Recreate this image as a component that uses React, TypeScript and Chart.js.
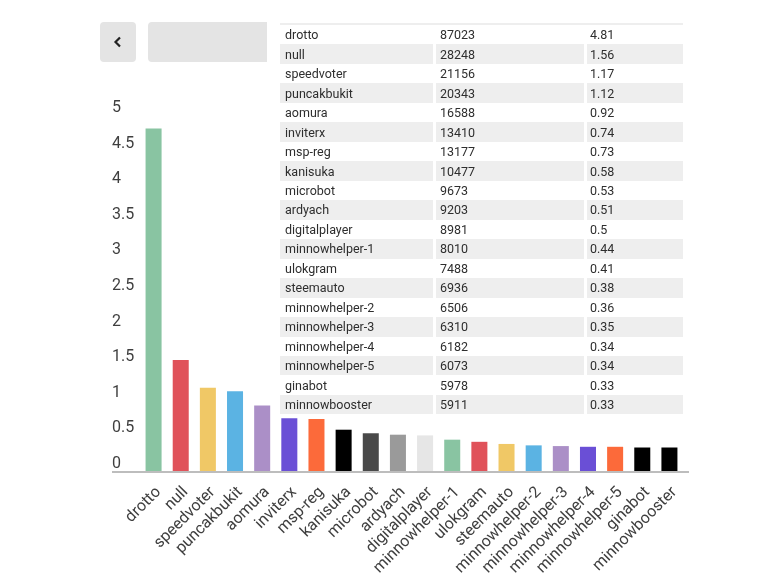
import React, { useEffect, useRef } from "react";
import { Chart, registerables } from "chart.js";

Chart.register(...registerables);

const names = [
  "drotto", "null", "speedvoter", "puncakbukit", "aomura", "inviterx", "msp-reg",
  "kanisuka", "microbot", "ardyach", "digitalplayer", "minnowhelper-1", "ulokgram",
  "steemauto", "minnowhelper-2", "minnowhelper-3", "minnowhelper-4", "minnowhelper-5",
  "ginabot", "minnowbooster",
];
const counts = [
  87023, 28248, 21156, 20343, 16588, 13410, 13177, 10477, 9673, 9203, 8981, 8010,
  7488, 6936, 6506, 6310, 6182, 6073, 5978, 5911,
];
const percents = [
  4.81, 1.56, 1.17, 1.12, 0.92, 0.74, 0.73, 0.58, 0.53, 0.51, 0.5, 0.44, 0.41,
  0.38, 0.36, 0.35, 0.34, 0.34, 0.33, 0.33,
];
const percentLabels = [
  "4.81", "1.56", "1.17", "1.12", "0.92", "0.74", "0.73", "0.58", "0.53", "0.51",
  "0.5", "0.44", "0.41", "0.38", "0.36", "0.35", "0.34", "0.34", "0.33", "0.33",
];
const barColors = [
  "#89c4a2", "#e0525a", "#f0c866", "#5bb3e3", "#ab8fc7", "#6a4fd6", "#fc6a3a",
  "#000000", "#494949", "#9a9a9a", "#e6e6e6", "#89c4a2", "#e0525a", "#f0c866",
  "#5bb3e3", "#ab8fc7", "#6a4fd6", "#fc6a3a", "#000000", "#000000",
];

const FONT = "Roboto, 'Noto Sans', sans-serif";

const baselinePlugin = {
  id: "baseline",
  afterDatasetsDraw(chart: any) {
    const { ctx, chartArea, scales } = chart;
    const y = scales.y.getPixelForValue(0);
    ctx.save();
    ctx.strokeStyle = "#bdbdbd";
    ctx.lineWidth = 2;
    ctx.beginPath();
    ctx.moveTo(chartArea.left - 28, y + 1);
    ctx.lineTo(chartArea.right + 6, y + 1);
    ctx.stroke();
    ctx.restore();
  },
};

export default function App() {
  const ref = useRef<HTMLCanvasElement>(null);
  useEffect(() => {
    if (!ref.current) return;
    const chart = new Chart(ref.current, {
      type: "bar",
      data: {
        labels: names,
        datasets: [
          {
            data: percents,
            backgroundColor: barColors,
            barPercentage: 0.59,
            categoryPercentage: 1,
          },
        ],
      },
      options: {
        animation: false,
        responsive: false,
        devicePixelRatio: 1,
        layout: { padding: { left: 112, right: 85, top: 115, bottom: 0 } },
        plugins: { legend: { display: false }, tooltip: { enabled: false } },
        scales: {
          x: {
            grid: { display: false },
            border: { display: false },
            afterFit: (s: any) => {
              s.height = 110;
            },
            ticks: {
              autoSkip: false,
              minRotation: 45,
              maxRotation: 45,
              color: "#3f3f3f",
              padding: 4,
              labelOffset: 5,
              font: { family: FONT, size: 16 },
            },
          },
          y: {
            min: 0,
            max: 5,
            grid: { display: false },
            border: { display: false },
            afterFit: (s: any) => {
              s.width = 28;
            },
            ticks: {
              stepSize: 0.5,
              crossAlign: "far",
              labelOffset: -7,
              color: "#3f3f3f",
              font: { family: FONT, size: 16 },
              callback: (v: any) => String(Number(v)),
            },
          },
        },
      },
      plugins: [baselinePlugin],
    });
    return () => chart.destroy();
  }, []);

  const cellBase: React.CSSProperties = {
    height: "100%",
    display: "flex",
    alignItems: "center",
    paddingLeft: 5,
    boxSizing: "border-box",
  };

  return (
    <div
      style={{
        position: "fixed",
        left: 0,
        top: 0,
        width: 768,
        height: 581,
        background: "#fff",
        fontFamily: FONT,
      }}
    >
      <canvas ref={ref} width={768} height={581} style={{ position: "absolute", left: 0, top: 0 }} />
      <div
        style={{
          position: "absolute",
          left: 100,
          top: 22,
          width: 36,
          height: 40,
          background: "#e4e4e4",
          borderRadius: 4,
          display: "flex",
          alignItems: "center",
          justifyContent: "center",
        }}
      >
        <svg width="10" height="12" viewBox="0 0 10 12">
          <path d="M7 1.5 L2.5 6 L7 10.5" stroke="#222" strokeWidth="2.2" fill="none" />
        </svg>
      </div>
      <div
        style={{
          position: "absolute",
          left: 148,
          top: 22,
          width: 119,
          height: 40,
          background: "#e4e4e4",
          borderRadius: "4px 0 0 4px",
        }}
      />
      <div
        style={{
          position: "absolute",
          left: 280,
          top: 23,
          width: 403,
          borderTop: "2px solid #eeeeee",
          fontSize: 12.5,
          color: "#2e2e2e",
        }}
      >
        {names.map((n, i) => {
          const bg = i % 2 === 1 ? "#eeeeee" : "#ffffff";
          return (
            <div key={n} style={{ display: "flex", gap: 3, height: 19.47 }}>
              <div style={{ ...cellBase, width: 153, background: bg }}>{n}</div>
              <div style={{ ...cellBase, width: 148, background: bg, paddingLeft: 4 }}>{counts[i]}</div>
              <div style={{ ...cellBase, width: 96, background: bg, paddingLeft: 3 }}>{percentLabels[i]}</div>
            </div>
          );
        })}
      </div>
    </div>
  );
}
